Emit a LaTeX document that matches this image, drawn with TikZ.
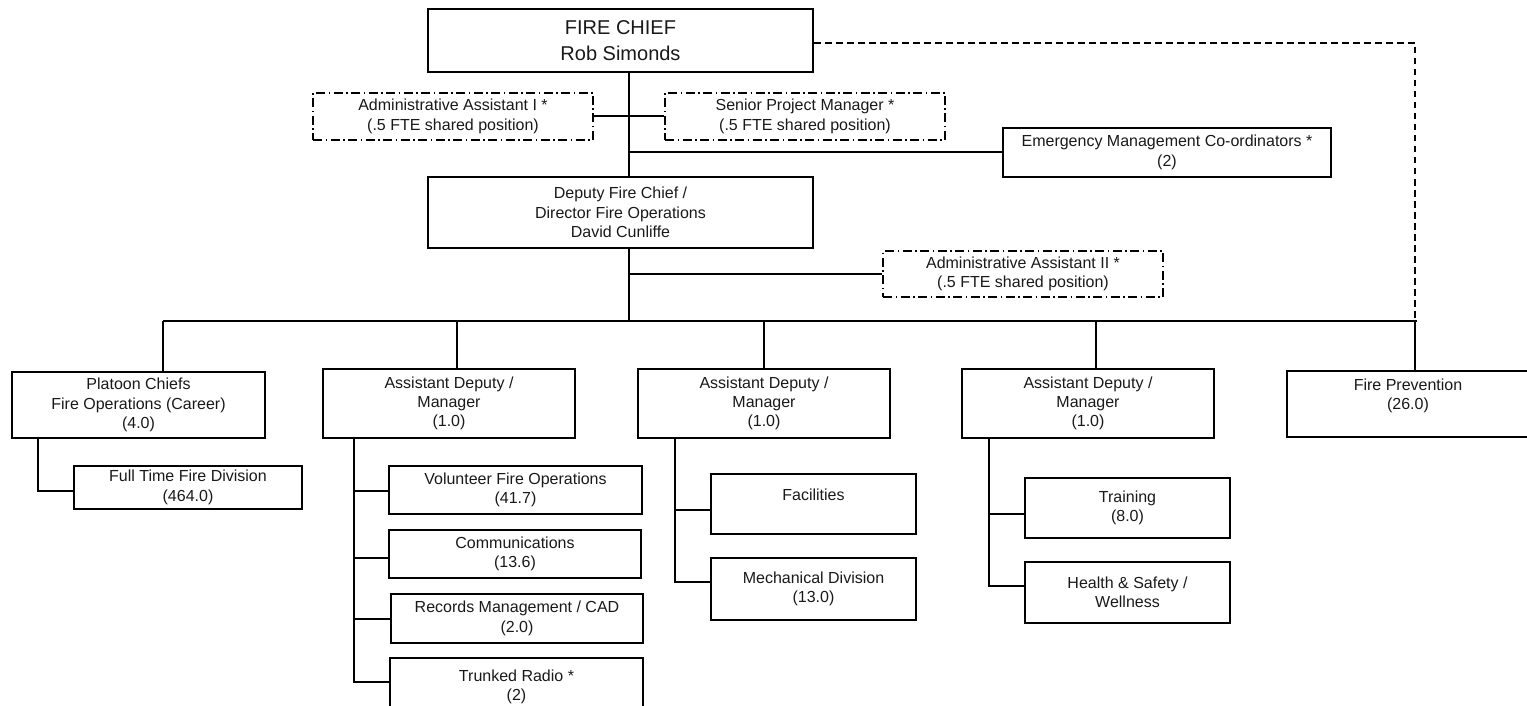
\documentclass[tikz,border=0pt]{standalone}
\usepackage{fontspec}
\setmainfont{Liberation Sans}
\usetikzlibrary{calc}
\newcommand\smallfnt{\fontsize{16}{19.3}\selectfont}
\newcommand\bigfnt{\fontsize{20}{26}\selectfont}
\tikzset{
  box/.style={draw, line width=2pt, inner sep=0pt, align=center, font=\smallfnt, text=black!90},
  dbox/.style={box, line width=1.8pt, dash pattern=on 9pt off 3.5pt on 1.5pt off 3.5pt},
  conn/.style={line width=2pt},
  dconn/.style={line width=1.8pt, dash pattern=on 6.5pt off 4.5pt},
  wh/.style 2 args={minimum width=#1pt, minimum height=#2pt}
}
\begin{document}
\begin{tikzpicture}[x=1pt,y=-1pt]
\useasboundingbox (0,0) rectangle (1527,706);
\clip (0,0) rectangle (1527,706);

% top level
\node[box, wh={385}{63}, font=\bigfnt] (fc) at (620.5,40.5) {FIRE CHIEF\\Rob Simonds};
\node[dbox, wh={280}{47}] (aa1) at (453,116.5) {Administrative Assistant I *\\(.5 FTE shared position)};
\node[dbox, wh={280}{47}] (spm) at (805,116.5) {Senior Project Manager *\\(.5 FTE shared position)};
\node[box, wh={328}{49}] (emc) at (1167,152.5) {Emergency Management Co-ordinators *\\(2)};
\node[box, wh={385}{71}] (dep) at (620.5,212.5) {Deputy Fire Chief /\\Director Fire Operations\\David Cunliffe};
\node[dbox, wh={280}{46}] (aa2) at (1023,274) {Administrative Assistant II *\\(.5 FTE shared position)};

% second level
\node[box, wh={253}{66}] (plc) at (138.5,405) {Platoon Chiefs\\Fire Operations (Career)\\(4.0)};
\node[box, wh={252}{69}] (ad1) at (449,403.5) {Assistant Deputy /\\Manager\\(1.0)};
\node[box, wh={252}{69}] (ad2) at (764,403.5) {Assistant Deputy /\\Manager\\(1.0)};
\node[box, wh={252}{69}] (ad3) at (1088,403.5) {Assistant Deputy /\\Manager\\(1.0)};
\node[box, wh={242}{66}] (fp) at (1408,404) {Fire Prevention\\(26.0)\\~};

% third level
\node[box, wh={228}{43}] (ftf) at (188,487.5) {Full Time Fire Division\\(464.0)};
\node[box, wh={253}{48}] (vfo) at (515.5,490) {Volunteer Fire Operations\\(41.7)};
\node[box, wh={252}{48}] (com) at (515,554) {Communications\\(13.6)};
\node[box, wh={252}{49}] (rec) at (517,618.5) {Records Management / CAD\\(2.0)};
\node[box, wh={253}{58}] (trk) at (516.5,687) {Trunked Radio *\\(2)};
\node[box, wh={205}{60}] (fac) at (813.5,504) {Facilities\\~};
\node[box, wh={205}{62}] (mec) at (813.5,589) {Mechanical Division\\(13.0)};
\node[box, wh={205}{60}] (trn) at (1127.5,508) {Training\\(8.0)};
\node[box, wh={205}{61}] (hsw) at (1127.5,592.5) {Health \& Safety /\\Wellness};

% helper coordinates
\coordinate (tr) at (629,0);
\coordinate (busL) at (163,321);
\coordinate (busR) at (1417,321);
\coordinate (d2) at (457,321);
\coordinate (d3) at (764,321);
\coordinate (d4) at (1096,321);
\coordinate (d5) at (1415,321);
\coordinate (s1) at (38,0);
\coordinate (s2) at (354,0);
\coordinate (s3) at (675,0);
\coordinate (s4) at (989,0);

% connectors
\draw[conn] (fc.south -| tr) -- (dep.north -| tr);
\draw[conn] (aa1.east) -- (spm.west);
\draw[conn] (emc.west) -- (emc.west -| tr);
\draw[conn] (dep.south -| tr) -- (busL -| tr);
\draw[conn] (aa2.west) -- (aa2.west -| tr);
\draw[conn] (busL) -- (busR);
\draw[dconn] ([yshift=-2.5pt]fc.east) -| (d5);

\draw[conn] (busL) -- (busL |- plc.north);
\draw[conn] (d2) -- (d2 |- ad1.north);
\draw[conn] (d3) -- (ad2.north);
\draw[conn] (d4) -- (d4 |- ad3.north);
\draw[conn] (d5) -- (d5 |- fp.north);

\draw[conn] (plc.south -| s1) |- ([yshift=-3.5pt]ftf.west);

\draw[conn] (ad1.south -| s2) |- ([yshift=5pt]trk.west);
\draw[conn] ([yshift=-1pt]vfo.west) -- ([yshift=-1pt]vfo.west -| s2);
\draw[conn] ([yshift=-4pt]com.west) -- ([yshift=-4pt]com.west -| s2);
\draw[conn] (rec.west) -- (rec.west -| s2);

\draw[conn] (ad2.south -| s3) |- ([yshift=7pt]mec.west);
\draw[conn] ([yshift=-6pt]fac.west) -- ([yshift=-6pt]fac.west -| s3);

\draw[conn] (ad3.south -| s4) |- ([yshift=6.5pt]hsw.west);
\draw[conn] ([yshift=-6pt]trn.west) -- ([yshift=-6pt]trn.west -| s4);
\end{tikzpicture}
\end{document}
